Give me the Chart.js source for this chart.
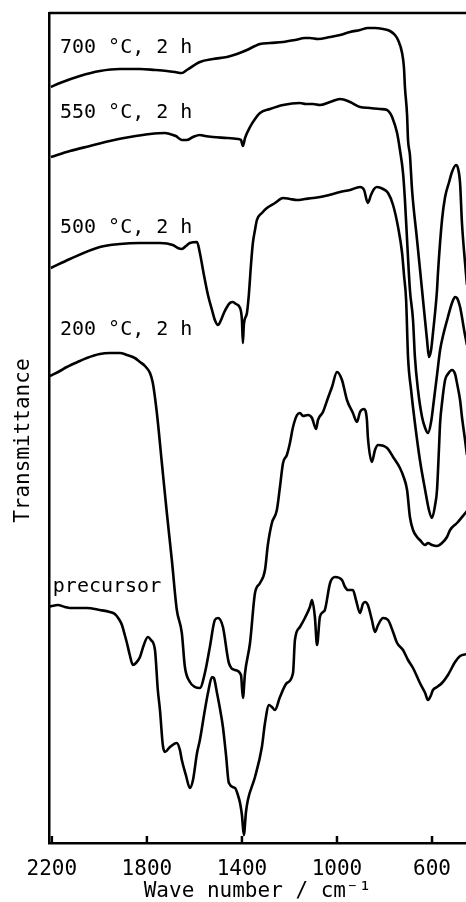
<!DOCTYPE html>
<html>
<head>
<meta charset="utf-8">
<script src="https://cdn.jsdelivr.net/npm/chart.js@4.4.0/dist/chart.umd.min.js"></script>
<style>
  body { margin: 0; background: #fff; }
  canvas { display: block; }
</style>
</head>
<body>
<canvas id="ir" width="466" height="902"></canvas>
<script>
// wave numbers (cm-1) and transmittance (arbitrary units, offset per curve)
var wn700 = [2204,2166,2082,1998,1914,1829,1766,1716,1682,1653,1632,1577,1522,1463,1421,1379,1345,1324,1282,1227,1177,1135,1114,1080,1029,987,945,903,870,840,806,777,756,743,726,718,714,705,701,693,684,663,642,621,613,604,596,579,575,558,545,528,516,499,491,482,474,461,453];
var t700  = [756,760,767,772,774,774,773,772,771,770,773,781,784,786,789,793,797,799,800,801,803,805,805,804,806,808,811,813,815,815,814,812,808,803,790,775,756,728,703,688,653,603,553,503,486,493,510,553,570,623,646,661,671,678,675,660,620,580,558];

var wn550 = [2204,2124,2040,1956,1872,1787,1724,1703,1678,1653,1632,1606,1577,1556,1522,1463,1417,1404,1396,1387,1366,1345,1324,1282,1227,1156,1131,1101,1072,1029,987,945,903,861,819,789,777,768,747,735,722,714,705,693,680,672,659,642,629,617,604,592,579,566,554,533,516,503,495,482,474,465,453];
var t550  = [686,692,697,702,706,709,710,709,707,703,703,706,708,707,706,705,704,703,697,705,716,724,730,734,738,740,739,739,738,741,744,741,736,735,734,733,730,726,710,693,670,643,603,553,523,486,453,426,415,410,421,443,468,493,507,526,540,546,545,536,526,513,498];

var wn500 = [2204,2124,1998,1914,1829,1745,1691,1670,1653,1636,1619,1589,1577,1560,1543,1526,1514,1501,1488,1476,1463,1451,1438,1425,1408,1400,1396,1392,1379,1371,1362,1354,1345,1337,1316,1295,1261,1227,1198,1168,1135,1101,1051,987,945,903,886,870,857,844,832,806,785,764,743,726,718,709,701,688,672,651,629,613,600,587,579,571,566,558,545,533,516,503,495,482,474,461,453];
var t500  = [575,584,596,599,600,600,598,595,594,597,600,601,590,568,548,533,523,518,523,530,536,540,541,539,535,523,500,518,530,548,578,600,613,623,630,635,640,645,644,643,644,645,647,651,653,656,653,640,648,654,656,654,650,638,616,590,568,543,486,453,420,383,353,333,325,338,353,393,420,440,463,469,473,469,460,443,426,403,388];

var wn200 = [2208,2166,2137,2082,2053,1998,1956,1914,1884,1851,1829,1808,1787,1775,1758,1737,1716,1695,1674,1653,1640,1619,1598,1577,1556,1535,1514,1501,1480,1455,1429,1404,1396,1387,1366,1345,1324,1303,1291,1274,1253,1240,1227,1211,1198,1185,1168,1156,1143,1122,1105,1088,1080,1059,1038,1021,1000,979,958,933,916,903,886,874,870,853,840,827,789,764,735,718,705,693,680,663,651,629,617,600,579,558,537,524,495,453];
var t200  = [467,472,476,482,485,489,490,490,488,485,481,477,470,460,430,380,330,283,233,210,176,161,156,155,170,196,223,225,216,180,173,168,145,170,200,250,260,273,298,320,333,356,380,388,400,416,428,430,427,428,425,414,423,431,445,456,471,463,443,430,421,431,434,423,406,381,393,398,395,386,375,365,353,326,313,306,303,298,300,298,297,300,306,313,320,332];

var wnPre = [2217,2200,2175,2145,2124,2053,1998,1956,1935,1918,1905,1893,1884,1872,1859,1846,1829,1813,1796,1783,1766,1754,1745,1733,1724,1703,1674,1661,1653,1636,1619,1606,1589,1577,1556,1543,1526,1518,1505,1493,1480,1467,1455,1429,1417,1408,1400,1392,1383,1375,1345,1316,1303,1286,1274,1261,1240,1211,1185,1177,1156,1135,1114,1105,1093,1084,1072,1059,1051,1029,1008,979,966,954,933,920,903,891,882,870,853,840,827,806,785,764,747,722,701,680,651,629,617,604,596,579,558,533,503,482,453];
var tPre  = [236,237,238,236,235,235,233,231,229,224,218,208,200,188,178,180,186,198,206,203,193,153,133,98,91,96,100,93,83,68,55,63,90,103,133,150,166,165,150,135,116,88,60,55,48,40,28,8,31,43,66,96,120,138,136,133,146,160,170,203,216,225,236,243,226,198,226,231,233,260,266,263,256,253,253,243,230,239,241,238,223,211,218,225,223,211,200,193,183,175,160,150,143,148,153,156,160,168,181,187,189];

var tickValues = [2200, 1800, 1400, 1000, 600];
var curveLabels = ['700 °C, 2 h', '550 °C, 2 h', '500 °C, 2 h', '200 °C, 2 h', 'precursor'];
var labelWn = [2166, 2166, 2166, 2166, 2196];
var labelT = [795, 730, 615, 513, 256];

var pairs = function(xs, ys) {
  return xs.map(function(x, i) { return {x: x, y: ys[i]}; });
};

var monoFont = '"DejaVu Sans Mono", "Liberation Mono", monospace';

var frame = {
  id: 'frame',
  afterDraw: function(chart) {
    var ctx = chart.ctx, a = chart.chartArea, xs = chart.scales.x, ys = chart.scales.y;
    ctx.save();
    ctx.strokeStyle = '#000';
    ctx.lineWidth = 2.5;
    // top border
    ctx.beginPath();
    ctx.moveTo(a.left, a.top);
    ctx.lineTo(a.right, a.top);
    ctx.stroke();
    // inward tick marks
    tickValues.forEach(function(v) {
      var px = xs.getPixelForValue(v);
      ctx.beginPath();
      ctx.moveTo(px, a.bottom);
      ctx.lineTo(px, a.bottom - 7);
      ctx.stroke();
    });
    // curve labels
    ctx.fillStyle = '#000';
    ctx.font = '20px ' + monoFont;
    ctx.textBaseline = 'middle';
    ctx.textAlign = 'left';
    curveLabels.forEach(function(t, i) {
      ctx.fillText(t, xs.getPixelForValue(labelWn[i]), ys.getPixelForValue(labelT[i]));
    });
    ctx.restore();
  }
};

var lineStyle = {
  borderColor: '#000',
  borderWidth: 2.6,
  pointRadius: 0,
  fill: false,
  cubicInterpolationMode: 'monotone'
};

new Chart(document.getElementById('ir'), {
  type: 'line',
  data: {
    datasets: [
      Object.assign({label: curveLabels[0], data: pairs(wn700, t700)}, lineStyle),
      Object.assign({label: curveLabels[1], data: pairs(wn550, t550)}, lineStyle),
      Object.assign({label: curveLabels[2], data: pairs(wn500, t500)}, lineStyle),
      Object.assign({label: curveLabels[3], data: pairs(wn200, t200)}, lineStyle),
      Object.assign({label: curveLabels[4], data: pairs(wnPre, tPre)}, lineStyle)
    ]
  },
  options: {
    responsive: false,
    animation: false,
    devicePixelRatio: 1,
    layout: { padding: { top: 13, right: 0, left: 0, bottom: 0 } },
    plugins: { legend: { display: false }, tooltip: { enabled: false } },
    scales: {
      x: {
        type: 'linear',
        reverse: true,
        min: 457,
        max: 2212,
        afterBuildTicks: function(s) {
          s.ticks = tickValues.map(function(v) { return {value: v}; });
        },
        afterFit: function(s) { s.height = 59; },
        grid: { drawOnChartArea: false, drawTicks: false },
        border: { color: '#000', width: 2.5 },
        ticks: {
          color: '#000',
          font: { family: monoFont, size: 21 },
          padding: 14,
          maxRotation: 0,
          autoSkip: false,
          callback: function(v) { return String(v); }
        },
        title: {
          display: true,
          text: 'Wave number / cm⁻¹',
          color: '#000',
          font: { family: monoFont, size: 21, lineHeight: 1 },
          padding: 0
        }
      },
      y: {
        type: 'linear',
        min: 0,
        max: 830,
        afterFit: function(s) { s.width = 49; },
        grid: { drawOnChartArea: false, drawTicks: false },
        border: { color: '#000', width: 2.5 },
        ticks: { display: false },
        title: {
          display: true,
          text: 'Transmittance  ',
          color: '#000',
          font: { family: monoFont, size: 21 },
          padding: { top: 11, bottom: 0 }
        }
      }
    }
  },
  plugins: [frame]
});
</script>
</body>
</html>
